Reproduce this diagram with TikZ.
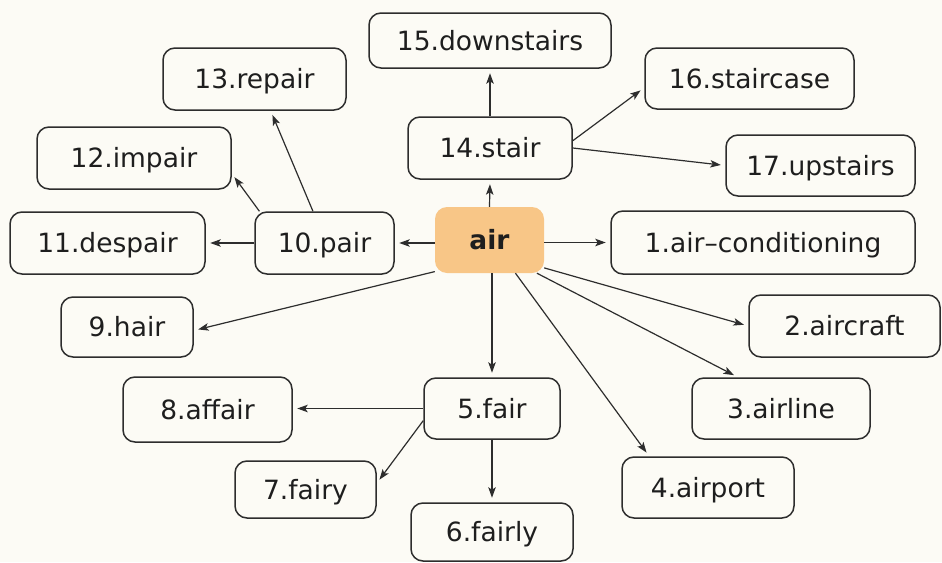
\documentclass[tikz,border=0pt]{standalone}
\usepackage{fontspec}
\setmainfont{DejaVu Sans}
\usetikzlibrary{arrows.meta}
\definecolor{bg}{RGB}{252,251,245}
\definecolor{airfill}{RGB}{248,198,135}
\definecolor{ink}{RGB}{30,30,30}
\definecolor{edge}{RGB}{45,45,45}
\begin{document}
\begin{tikzpicture}[x=1pt,y=-1pt,
  word/.style={draw=edge, line width=1.5pt, rounded corners=12pt, inner sep=0pt,
    text=ink, font=\fontsize{26.5}{30}\selectfont, text height=19.3pt, text depth=0pt},
  hub/.style={fill=airfill, rounded corners=12pt, inner sep=0pt, text=ink,
    font=\fontsize{26.5}{30}\selectfont\bfseries, text height=19.3pt, text depth=0pt},
  arr/.style={-{Stealth[length=10.5pt,width=7.5pt,inset=2.5pt]}, line width=1.2pt, draw=edge, shorten >=4.5pt}]
\useasboundingbox (0,0) rectangle (942,562);
\fill[bg] (0,0) rectangle (942,562);

\node[hub, minimum width=109pt, minimum height=66pt] (air) at (489.5,240) {air};

\node[word, minimum width=242pt, minimum height=55pt] (down) at (490,40.5) {15.downstairs};
\node[word, minimum width=183pt, minimum height=62pt] (repair) at (254.5,79) {13.repair};
\node[word, minimum width=209pt, minimum height=61pt] (staircase) at (749.5,78.5) {16.staircase};
\node[word, minimum width=164pt, minimum height=62pt] (stair) at (490,148) {14.stair};
\node[word, minimum width=194pt, minimum height=62pt] (impair) at (134,158) {12.impair};
\node[word, minimum width=189pt, minimum height=61pt] (upstairs) at (820.5,165.5) {17.upstairs};
\node[word, minimum width=195pt, minimum height=62pt] (despair) at (107.5,243) {11.despair};
\node[word, minimum width=139pt, minimum height=62pt] (pair) at (324.5,243) {10.pair};
\node[word, minimum width=304pt, minimum height=63pt] (cond) at (763,242.5) {1.air–conditioning};
\node[word, minimum width=132pt, minimum height=60pt] (hair) at (127,327) {9.hair};
\node[word, minimum width=191pt, minimum height=62pt] (aircraft) at (844.5,326) {2.aircraft};
\node[word, minimum width=169pt, minimum height=65pt] (affair) at (207.5,409.5) {8.affair};
\node[word, minimum width=136pt, minimum height=61pt] (fair) at (492,408.5) {5.fair};
\node[word, minimum width=178pt, minimum height=61pt] (airline) at (781,408.5) {3.airline};
\node[word, minimum width=141pt, minimum height=57pt] (fairy) at (305.5,489.5) {7.fairy};
\node[word, minimum width=172pt, minimum height=61pt] (airport) at (708,487.5) {4.airport};
\node[word, minimum width=162pt, minimum height=58pt] (fairly) at (492,532) {6.fairly};

\draw[arr] (air.north) -- (stair.south);
\draw[arr] (stair.north) -- (down.south);
\draw[arr] (stair.5) -- (staircase.185);
\draw[arr] (stair.east) -- (upstairs.west);
\draw[arr] (pair.east -| air.west) -- (pair.east);
\draw[arr] (pair.west) -- (despair.east);
\draw[arr] (pair.154) -- (impair.-9);
\draw[arr] (pair.110) -- (repair.-63);
\draw[arr] (cond.west -| air.east) -- (cond.west);
\draw[arr] (air.210) -- (hair.-3);
\draw[arr] (air.-27) -- (aircraft.west);
\draw[arr] (air.-35) -- (airline.144);
\draw[arr] (air.-52) -- (airport.152);
\draw[arr] (fair.north |- air.south) -- (fair.north);
\draw[arr] (fair.west) -- (affair.east |- fair.west);
\draw[arr] (fair.190) -- (fairy.5);
\draw[arr] (fair.south) -- (fairly.north);
\end{tikzpicture}
\end{document}
